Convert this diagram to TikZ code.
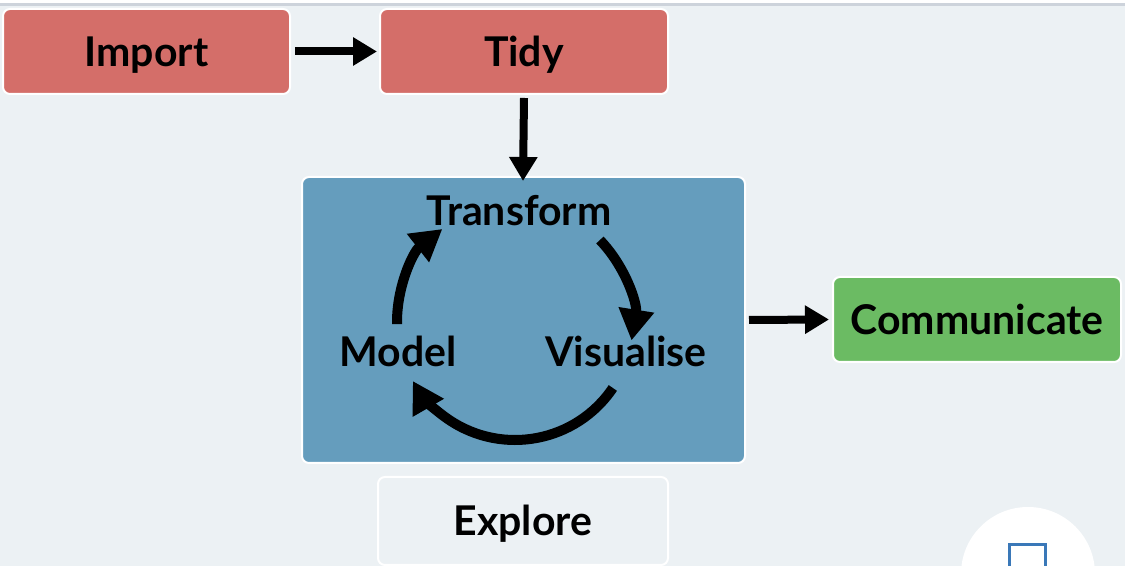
\documentclass[tikz,border=0pt]{standalone}
\usepackage{fontspec}
\setmainfont{Lato}
\usetikzlibrary{arrows.meta,calc}
\definecolor{bgc}{HTML}{ECF1F4}
\definecolor{topline}{HTML}{CDD3DB}
\definecolor{redc}{HTML}{D46E69}
\definecolor{bluec}{HTML}{659DBD}
\definecolor{greenc}{HTML}{6BBB63}
\definecolor{sqblue}{HTML}{3A78B8}
\tikzset{
  stagebox/.style={draw=white, line width=2pt, rounded corners=7pt, inner sep=0pt,
    font=\fontsize{41}{49}\selectfont\bfseries, text height=29.5pt, text depth=0pt},
  lbl/.style={inner sep=0pt, font=\fontsize{41}{49}\selectfont\bfseries, text height=29.5pt, text depth=0pt},
  flow/.style={line width=8pt, -{Triangle[length=24pt,width=27pt]}},
  cyc/.style={line width=10pt, -{Triangle[length=31pt,width=34pt]}}
}
\begin{document}
\begin{tikzpicture}[x=1pt,y=1pt]
\useasboundingbox (0,0) rectangle (1125,569);
\fill[white] (0,0) rectangle (1125,569);
\fill[bgc] (0,3) rectangle (1125,563);
\fill[topline] (0,563) rectangle (1125,566);
% boxes
\node[stagebox, fill=redc, minimum width=287pt, minimum height=85pt] (import) at (146.5,517.5) {Import};
\node[stagebox, fill=redc, minimum width=288pt, minimum height=85pt] (tidy) at (524,517.5) {Tidy};
\node[stagebox, fill=bluec, minimum width=443pt, minimum height=286pt] (explorebox) at (523.5,249) {};
\node[stagebox, fill=greenc, minimum width=288pt, minimum height=85pt] (comm) at (977,249.5) {Communicate};
\node[stagebox, fill=bgc, minimum width=290pt, minimum height=88pt] (explore) at (523,48) {Explore};
% labels inside
\node[lbl] (transform) at (519,358) {Transform};
\node[lbl] (model) at (398,217) {Model};
\node[lbl] (visualise) at (626,217) {Visualise};
% flow arrows
\draw[flow] ([xshift=4pt]import.east) -- ([xshift=-2pt]tidy.west);
\draw[flow] ([yshift=-3pt]tidy.south) -- ([yshift=-5pt,xshift=-1pt]tidy.south |- explorebox.north);
\draw[flow] ([xshift=3pt]explorebox.east) -- ([xshift=-3pt]comm.west);
% cycle arcs
\coordinate (cc) at (515,247);
\draw[cyc] ($(cc)+(181:118)$) arc[start angle=181, end angle=128, radius=118];
\draw[cyc] ($(cc)+(44:118)$) arc[start angle=44, end angle=-9, radius=118];
\draw[cyc] ($(cc)+(-34:118)$) arc[start angle=-34, end angle=-150, radius=118];
% bottom-right overlay
\begin{scope}
\clip (0,3) rectangle (1125,569);
\fill[white] (1028,-5) circle[radius=67];
\draw[sqblue, line width=3pt] (1009.5,-10) rectangle (1045.5,24);
\end{scope}
\end{tikzpicture}
\end{document}
